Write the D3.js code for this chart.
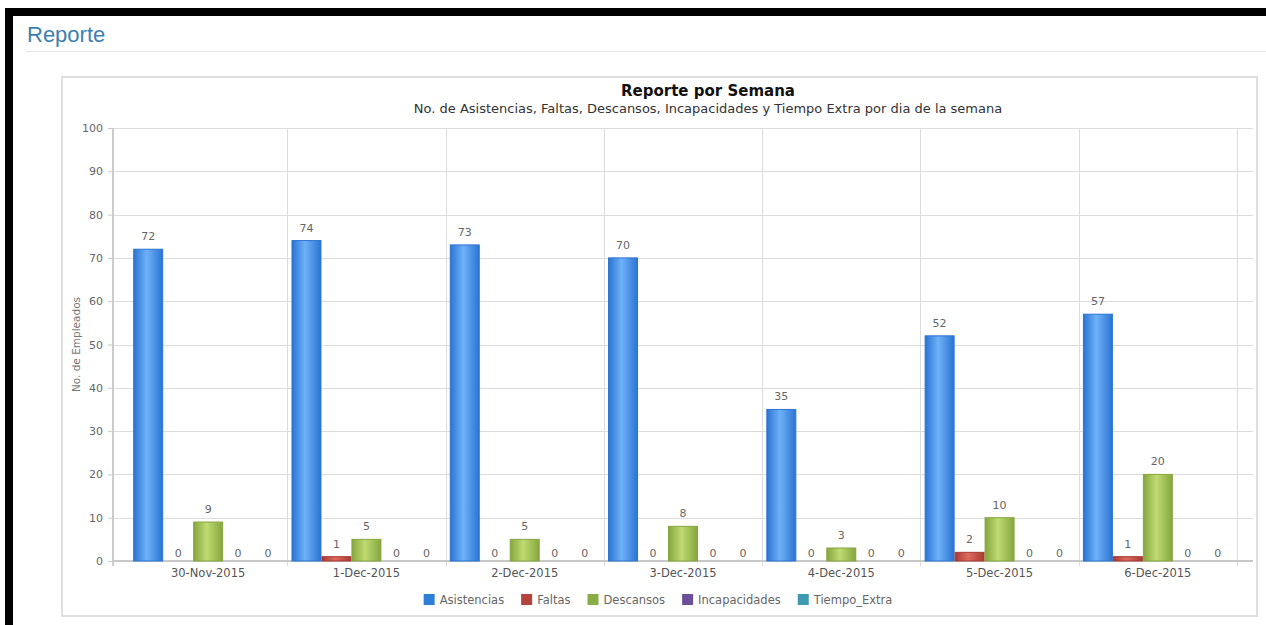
<!DOCTYPE html>
<html>
<head>
<meta charset="utf-8">
<script src="https://cdn.jsdelivr.net/npm/d3@7"></script>
<style>
  html, body { margin: 0; padding: 0; background: #fff; }
  svg { display: block; }
</style>
</head>
<body>
<svg id="chart" width="1266" height="625"></svg>
<script>
// ---- data ----
const categories = ["30-Nov-2015", "1-Dec-2015", "2-Dec-2015", "3-Dec-2015", "4-Dec-2015", "5-Dec-2015", "6-Dec-2015"];
const seriesNames = ["Asistencias", "Faltas", "Descansos", "Incapacidades", "Tiempo_Extra"];
const asistencias   = [72, 74, 73, 70, 35, 52, 57];
const faltas        = [0, 1, 0, 0, 0, 2, 1];
const descansos     = [9, 5, 5, 8, 3, 10, 20];
const incapacidades = [0, 0, 0, 0, 0, 0, 0];
const tiempoExtra   = [0, 0, 0, 0, 0, 0, 0];
const yTicks = [0, 10, 20, 30, 40, 50, 60, 70, 80, 90, 100];
const pageTitle = "Reporte";
const chartTitle = "Reporte por Semana";
const chartSubtitle = "No. de Asistencias, Faltas, Descansos, Incapacidades y Tiempo Extra por dia de la semana";
const yAxisTitle = "No. de Empleados";

const seriesValues = [asistencias, faltas, descansos, incapacidades, tiempoExtra];
const colors = {
  Asistencias:   { base: "#2f7ed8", light: "#6fb1f8", dark: "#2a74d2" },
  Faltas:        { base: "#b5433b", light: "#e0695f", dark: "#a83a32" },
  Descansos:     { base: "#8aac45", light: "#bfdb72", dark: "#86a63e" },
  Incapacidades: { base: "#6b4f98", light: "#9a80c4", dark: "#5f448a" },
  Tiempo_Extra:  { base: "#3d9ab0", light: "#6fc6da", dark: "#358aa0" }
};

const svg = d3.select("#chart");
const font = "'DejaVu Sans', Verdana, sans-serif";

// ---- page frame ----
svg.append("rect").attr("x", 5).attr("y", 8).attr("width", 1261).attr("height", 8).attr("fill", "#000");
svg.append("rect").attr("x", 5).attr("y", 8).attr("width", 8).attr("height", 617).attr("fill", "#000");
svg.append("text").attr("x", 27).attr("y", 42)
  .attr("font-family", "'Liberation Sans', Arial, sans-serif").attr("font-size", 22)
  .attr("fill", "#3e7fae").text(pageTitle);
svg.append("line").attr("x1", 26).attr("x2", 1266).attr("y1", 51.5).attr("y2", 51.5)
  .attr("stroke", "#e6e6e6").attr("stroke-width", 1);

// chart box
svg.append("rect").attr("x", 62).attr("y", 77).attr("width", 1195).attr("height", 539)
  .attr("fill", "#fff").attr("stroke", "#dedede").attr("stroke-width", 2);

// ---- gradients ----
const defs = svg.append("defs");
seriesNames.forEach((s, i) => {
  const g = defs.append("linearGradient").attr("id", "grad" + i)
    .attr("x1", "0%").attr("x2", "100%").attr("y1", "0%").attr("y2", "0%");
  g.append("stop").attr("offset", "0%").attr("stop-color", colors[s].dark);
  g.append("stop").attr("offset", "45%").attr("stop-color", colors[s].light);
  g.append("stop").attr("offset", "100%").attr("stop-color", colors[s].dark);
});

// ---- scales ----
const plot = { left: 113, right: 1253, top: 128, bottom: 561, pad: 16 };
const y = d3.scaleLinear().domain([0, 100]).range([plot.bottom, plot.top]);
const x0 = d3.scaleBand().domain(categories).range([plot.left + plot.pad, plot.right - plot.pad]);
const x1 = d3.scaleBand().domain(seriesNames).range([0, x0.bandwidth()]).paddingInner(0).paddingOuter(0.14);

// horizontal gridlines
svg.append("g").selectAll("line").data(yTicks.filter(t => t > 0)).join("line")
  .attr("x1", plot.left).attr("x2", plot.right)
  .attr("y1", d => Math.round(y(d)) + 0.5).attr("y2", d => Math.round(y(d)) + 0.5)
  .attr("stroke", "#dcdcdc").attr("stroke-width", 1);

// vertical gridlines at category boundaries (with ticks below axis)
svg.append("g").selectAll("line").data(categories).join("line")
  .attr("x1", d => Math.round(x0(d) + x0.bandwidth()) + 0.5)
  .attr("x2", d => Math.round(x0(d) + x0.bandwidth()) + 0.5)
  .attr("y1", plot.top).attr("y2", plot.bottom + 5)
  .attr("stroke", "#dcdcdc").attr("stroke-width", 1);

// y axis
const yAxis = d3.axisLeft(y).tickValues(yTicks).tickSize(5).tickPadding(5);
const gy = svg.append("g").attr("transform", `translate(${plot.left},0)`).call(yAxis);
gy.select(".domain").attr("stroke", "#cccccc").attr("stroke-width", 2)
  .attr("d", `M0,${plot.top}V${plot.bottom + 5}`);
gy.selectAll(".tick line").attr("stroke", "#c8c8c8");
gy.selectAll(".tick text").attr("font-family", font).attr("font-size", 11).attr("fill", "#666");

// x axis
const xAxis = d3.axisBottom(x0).tickSize(0).tickPadding(8);
const gx = svg.append("g").attr("transform", `translate(0,${plot.bottom})`).call(xAxis);
gx.select(".domain").attr("stroke", "#c8c8c8").attr("stroke-width", 2)
  .attr("d", `M${plot.left},0H${plot.right}`);
gx.selectAll(".tick text").attr("font-family", font).attr("font-size", 11.5).attr("fill", "#555");

// bars
const rows = categories.map((c, ci) => ({ cat: c, vals: seriesNames.map((s, si) => ({ s, si, v: seriesValues[si][ci] })) }));
const groups = svg.append("g").selectAll("g").data(rows).join("g")
  .attr("transform", d => `translate(${x0(d.cat)},0)`);
groups.selectAll("rect").data(d => d.vals.filter(v => v.v > 0)).join("rect")
  .attr("x", d => x1(d.s) + 0.5).attr("width", x1.bandwidth() - 1)
  .attr("y", d => y(d.v)).attr("height", d => y(0) - y(d.v))
  .attr("fill", d => `url(#grad${d.si})`)
  .attr("stroke", d => colors[d.s].dark).attr("stroke-width", 1);
groups.selectAll("text").data(d => d.vals).join("text")
  .attr("x", d => x1(d.s) + x1.bandwidth() / 2)
  .attr("y", d => y(d.v) - (d.v === 0 ? 4 : 9))
  .attr("text-anchor", "middle")
  .attr("font-family", font).attr("font-size", 11).attr("fill", "#666")
  .text(d => d.v);

// titles
svg.append("text").attr("x", 708).attr("y", 96).attr("text-anchor", "middle")
  .attr("font-family", font).attr("font-size", 15).attr("font-weight", "bold").attr("fill", "#111")
  .text(chartTitle);
svg.append("text").attr("x", 708).attr("y", 113).attr("text-anchor", "middle")
  .attr("font-family", font).attr("font-size", 13).attr("fill", "#333")
  .text(chartSubtitle);
svg.append("text").attr("transform", `translate(80,${(plot.top + plot.bottom) / 2}) rotate(-90)`)
  .attr("text-anchor", "middle").attr("font-family", font).attr("font-size", 10.5).attr("fill", "#777")
  .text(yAxisTitle);

// legend
const legend = svg.append("g");
const items = legend.selectAll("g").data(seriesNames).join("g");
items.append("rect").attr("width", 11).attr("height", 11).attr("y", -10)
  .attr("fill", d => colors[d].base);
items.append("text").attr("x", 16).attr("font-family", font).attr("font-size", 11.5).attr("fill", "#666")
  .text(d => d);
const widths = [];
items.each(function () {
  const w = 16 + this.querySelector("text").getComputedTextLength();
  widths.push(w);
});
const gap = 17;
const total = d3.sum(widths) + gap * (widths.length - 1);
const start = 658 - total / 2;
items.attr("transform", (d, i) => {
  const tx = start + d3.sum(widths.slice(0, i)) + gap * i;
  return `translate(${tx},604)`;
});
</script>
</body>
</html>
